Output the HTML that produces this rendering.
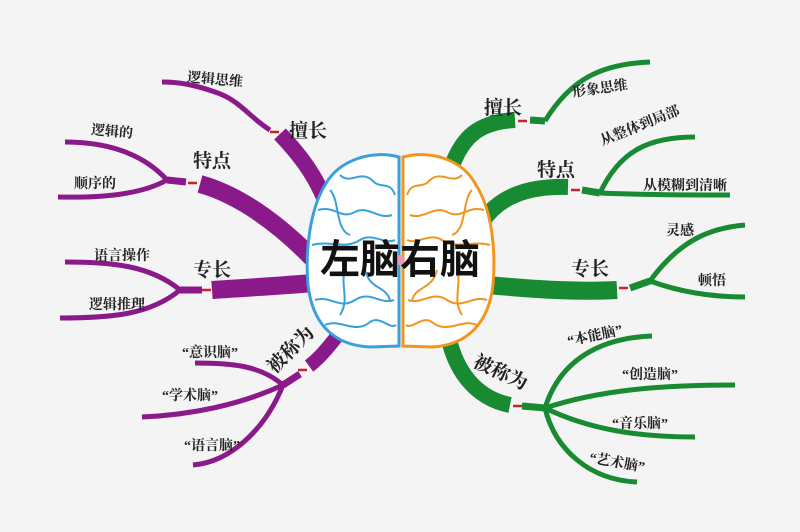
<!DOCTYPE html>
<html><head><meta charset="utf-8"><style>
html,body{margin:0;padding:0;background:#f4f4f4;}
svg{display:block}
text{font-family:"Liberation Serif","Noto Serif CJK SC","Noto Sans CJK SC",serif;font-weight:bold;fill:#222;}
</style></head><body>
<svg width="800" height="532" viewBox="0 0 800 532" xmlns="http://www.w3.org/2000/svg">
<rect width="800" height="532" fill="#f4f4f4"/>
<g fill="none" stroke-linecap="butt" stroke="#8a1a8a">
  <path d="M330,215 C320,180 300,155 280,134" stroke-width="16"/>
  <path d="M318,190 C305,165 295,150 280,134" stroke-width="10"/>
  <path d="M270,130 C250,118 240,100 215,92 C195,85 180,82 162,82" stroke-width="5"/>
  <path d="M312,258 C280,225 240,195 200,184" stroke-width="18"/>
  <path d="M186,182 L167,180" stroke-width="7"/>
  <path d="M167,180 C140,150 100,142 65,142" stroke-width="5"/>
  <path d="M167,180 C140,195 100,198 58,197" stroke-width="5"/>
  <path d="M312,283 C280,286 240,288 212,290" stroke-width="18"/>
  <path d="M202,290 L180,290" stroke-width="7"/>
  <path d="M180,290 C150,265 110,262 65,262" stroke-width="5"/>
  <path d="M180,290 C150,315 110,318 60,318" stroke-width="5"/>
  <path d="M342,330 C330,345 320,358 309,366" stroke-width="14"/>
  <path d="M300,374 L283,385" stroke-width="7"/>
  <path d="M283,385 C260,365 230,363 195,363" stroke-width="5"/>
  <path d="M283,385 C240,405 190,415 142,417" stroke-width="5"/>
  <path d="M283,385 C265,430 230,462 193,465" stroke-width="5"/>
</g>
<g fill="none" stroke-linecap="butt" stroke="#178a32">
  <path d="M448,178 C460,135 480,122 515,120" stroke-width="16"/>
  <path d="M530,120 L545,121" stroke-width="7"/>
  <path d="M545,121 C570,80 600,64 650,62" stroke-width="5"/>
  <path d="M482,222 C500,195 530,186 568,187" stroke-width="16"/>
  <path d="M582,190 L600,193" stroke-width="7"/>
  <path d="M600,193 C620,150 650,137 695,137" stroke-width="5"/>
  <path d="M600,193 C650,195 690,195 730,195" stroke-width="5"/>
  <path d="M488,285 C540,290 580,292 617,290" stroke-width="18"/>
  <path d="M630,288 L650,281" stroke-width="7"/>
  <path d="M650,281 C680,240 710,228 745,225" stroke-width="5"/>
  <path d="M650,281 C680,292 710,297 745,297" stroke-width="5"/>
  <path d="M448,335 C455,370 475,398 510,405" stroke-width="16"/>
  <path d="M522,406 L545,408" stroke-width="7"/>
  <path d="M545,408 C560,360 600,338 652,336" stroke-width="5"/>
  <path d="M545,408 C600,390 660,385 735,385" stroke-width="5"/>
  <path d="M545,408 C590,430 640,437 695,437" stroke-width="5"/>
  <path d="M545,408 C555,450 590,480 637,482" stroke-width="5"/>
</g>
<g stroke="#c8232c" stroke-width="2.5">
  <line x1="270" y1="132" x2="279" y2="132"/>
  <line x1="188" y1="183" x2="197" y2="183"/>
  <line x1="202" y1="290" x2="211" y2="290"/>
  <line x1="298" y1="370" x2="307" y2="370"/>
  <line x1="518" y1="121" x2="527" y2="121"/>
  <line x1="571" y1="190" x2="580" y2="190"/>
  <line x1="619" y1="288" x2="628" y2="288"/>
  <line x1="513" y1="406" x2="522" y2="406"/>
</g>
<path d="M399,157 C375,150 340,158 325,185 C310,210 305,250 308,285 C312,320 330,345 370,347 L399,346 Z" fill="#fff" stroke="#3aa0dc" stroke-width="3"/>
<path d="M403,157 C428,150 462,158 476,185 C492,210 496,250 493,285 C489,320 470,345 432,347 L403,346 Z" fill="#fff" stroke="#f0961e" stroke-width="3"/>
<g fill="none" stroke="#3aa0dc" stroke-width="2">
  <path d="M340,175 C350,185 360,170 372,180 C380,190 390,180 395,195"/>
  <path d="M318,210 C335,205 340,220 355,212 C368,205 378,220 392,215"/>
  <path d="M330,190 C340,200 335,230 350,235"/>
  <path d="M312,245 C330,240 345,250 360,240 C372,232 385,245 395,240"/>
  <path d="M315,300 C330,295 340,310 355,300 C370,290 380,305 394,300"/>
  <path d="M325,325 C340,318 355,335 370,322 C380,315 390,330 396,325"/>
  <path d="M365,270 C370,290 385,285 390,300"/>
  <path d="M345,270 C340,285 350,300 340,315"/>
</g>
<g fill="none" stroke="#f0961e" stroke-width="2">
  <path d="M462,175 C452,185 442,170 430,180 C422,190 412,180 407,195"/>
  <path d="M484,210 C467,205 462,220 447,212 C434,205 424,220 410,215"/>
  <path d="M472,190 C462,200 467,230 452,235"/>
  <path d="M490,245 C472,240 457,250 442,240 C430,232 417,245 407,240"/>
  <path d="M487,300 C472,295 462,310 447,300 C432,290 422,305 408,300"/>
  <path d="M477,325 C462,318 447,335 432,322 C422,315 412,330 406,325"/>
  <path d="M437,270 C432,290 417,285 412,300"/>
  <path d="M457,270 C462,285 452,300 462,315"/>
</g>
<circle cx="400" cy="260" r="5" fill="#e89ab0"/>
<text x="400" y="273" text-anchor="middle" font-size="40" style="font-family:'Liberation Sans','Noto Sans CJK SC',sans-serif;font-weight:bold;fill:#111">左脑右脑</text>
<g font-size="19" text-anchor="middle">
  <text x="308" y="137">擅长</text>
  <text x="212" y="167">特点</text>
  <text x="212" y="276">专长</text>
  <text x="503" y="114">擅长</text>
  <text x="556" y="176">特点</text>
  <text x="590" y="275">专长</text>
  <text x="0" y="0" transform="translate(295,354) rotate(-45)">被称为</text>
  <text x="0" y="0" transform="translate(498,378) rotate(25)">被称为</text>
</g>
<g font-size="14" text-anchor="middle">
  <text x="215" y="84" transform="rotate(5 215 80)">逻辑思维</text>
  <text x="112" y="136" transform="rotate(5 112 132)">逻辑的</text>
  <text x="95" y="188">顺序的</text>
  <text x="122" y="260">语言操作</text>
  <text x="117" y="309">逻辑推理</text>
  <text x="210" y="357">“意识脑”</text>
  <text x="190" y="400">“学术脑”</text>
  <text x="212" y="450">“语言脑”</text>
  <text x="600" y="93" transform="rotate(-8 600 89)">形象思维</text>
  <text x="640" y="130" transform="rotate(-22 640 126)">从整体到局部</text>
  <text x="685" y="190">从模糊到清晰</text>
  <text x="680" y="235">灵感</text>
  <text x="712" y="285">顿悟</text>
  <text x="595" y="340" transform="rotate(-12 595 336)">“本能脑”</text>
  <text x="650" y="379">“创造脑”</text>
  <text x="640" y="428">“音乐脑”</text>
  <text x="617" y="467" transform="rotate(10 617 463)">“艺术脑”</text>
</g>
</svg>
</body></html>
